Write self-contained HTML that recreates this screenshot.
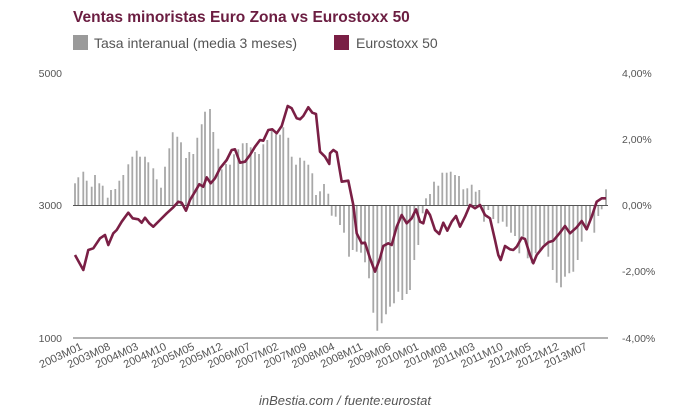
<!DOCTYPE html>
<html><head><meta charset="utf-8"><style>
html,body{margin:0;padding:0;background:#fff;}
svg{display:block;font-family:"Liberation Sans",sans-serif;}
</style></head><body>
<svg id="s" width="680" height="415" viewBox="0 0 680 415" xmlns="http://www.w3.org/2000/svg">
<text x="73" y="22" font-size="15.5" font-weight="bold" fill="#6b1d41">Ventas minoristas Euro Zona vs Eurostoxx 50</text>
<rect x="73" y="35" width="15" height="15" fill="#9a9a9a"/>
<text x="94" y="48" font-size="14" fill="#555">Tasa interanual (media 3 meses)</text>
<rect x="334" y="35" width="15" height="15" fill="#7a1f45"/>
<text x="356" y="48" font-size="14" fill="#555">Eurostoxx 50</text>
<g font-size="10.5" fill="#555">
<text x="62" y="77" text-anchor="end">5000</text>
<text x="62" y="209" text-anchor="end">3000</text>
<text x="62" y="342" text-anchor="end">1000</text>
<text x="622" y="77">4,00%</text>
<text x="622" y="143">2,00%</text>
<text x="622" y="209">0,00%</text>
<text x="622" y="275">-2,00%</text>
<text x="622" y="342">-4,00%</text>
</g>
<g id="bars" stroke="#a8a8a8" stroke-width="1.8"></g>
<line x1="73" y1="205.5" x2="608" y2="205.5" stroke="#555" stroke-width="1"/>
<line x1="73" y1="338" x2="608" y2="338" stroke="#666" stroke-width="1"/>
<polyline id="ln" fill="none" stroke="#7a1f45" stroke-width="2.6" stroke-linejoin="round"/>
<g id="xl" font-size="11" fill="#555"></g>
<text x="345" y="405" font-size="13" font-style="italic" fill="#555" text-anchor="middle">inBestia.com / fuente:eurostat</text>
</svg>
<script>
var NS="http://www.w3.org/2000/svg";
var b1=[[45,280],[55,262],[70,245],[80,272],[95,290],[105,255],[118,280],[128,287],[143,323],[153,300],[166,297],[178,272],[190,255],[205,223],[217,200],[230,182],[240,200],[255,200],[265,217],[280,235],[290,268],[303,293],[315,230],[328,175],[338,127],[352,140],[363,157],[378,204],[388,186],[400,192],[412,143],[425,103],[435,65],[450,57],[460,126],[475,176],[485,238],[498,222],[510,224],[522,193],[535,178],[548,160],[560,159],[572,172],[585,186],[597,192],[610,163],[622,150],[635,122],[648,133],[660,134],[670,112],[685,143],[695,200],[708,224],[720,203],[733,212],[745,224],[757,250],[768,315],[780,304],[792,282],[805,311]];
var b2=[[5,377],[17,380],[30,405],[42,428],[57,500],[68,480],[80,485],[93,488],[105,517],[117,565],[130,668],[142,722],[155,700],[168,673],[180,650],[192,640],[205,605],[217,630],[230,612],[240,600],[253,510],[265,465],[278,370],[288,325],[300,312],[312,275],[325,287],[337,248],[350,248],[362,245],[375,255],[387,258],[400,298],[412,295],[425,284],[437,305],[448,300],[462,395],[475,360],[490,387],[505,400],[518,395],[530,410],[543,428],[555,438],[568,490],[580,440],[593,505],[605,520],[617,490],[630,480],[643,470],[655,500],[668,540],[680,578],[693,592],[705,560],[718,550],[730,545],[743,510],[755,455],[768,420],[780,395],[793,428],[805,378],[815,358],[828,298]];
var l1=[[45,495],[70,540],[85,480],[100,475],[120,445],[135,435],[145,465],[160,430],[170,420],[185,395],[205,368],[218,385],[235,388],[245,398],[255,383],[268,400],[280,410],[300,390],[320,370],[340,352],[355,335],[365,338],[378,362],[390,330],[405,305],[418,283],[430,290],[440,262],[452,280],[465,265],[480,235],[500,210],[515,180],[525,178],[540,218],[555,215],[570,195],[585,170],[600,150],[610,152],[625,120],[637,118],[650,130],[665,108],[683,48],[695,55],[710,85],[720,88],[730,78],[745,52],[757,68],[768,72],[780,185],[795,200],[808,222]];
var l2=[[0,190],[10,180],[20,187],[35,275],[55,272],[70,345],[80,430],[95,460],[105,458],[120,505],[135,545],[150,505],[160,468],[175,460],[185,465],[200,410],[215,375],[230,400],[245,385],[258,358],[270,395],[280,400],[290,360],[300,375],[315,420],[328,432],[340,398],[352,422],[365,395],[378,378],[390,410],[405,380],[420,345],[435,355],[450,345],[465,375],[480,385],[495,450],[505,495],[512,510],[525,468],[540,478],[550,480],[560,470],[575,443],[585,447],[600,495],[610,520],[620,495],[640,470],[655,457],[670,452],[690,428],[705,408],[720,430],[740,412],[755,393],[770,418],[785,380],[800,335],[815,325],[828,325]];
var g=document.getElementById('bars');
function addBars(a,ox){a.forEach(function(p){var x=ox+p[0]/3,y=90+p[1]/3;var l=document.createElementNS(NS,'line');l.setAttribute('x1',x.toFixed(1));l.setAttribute('x2',x.toFixed(1));l.setAttribute('y1',205.5);l.setAttribute('y2',y.toFixed(1));g.appendChild(l);});}
addBars(b1,60);addBars(b2,330);
var pts=[];l1.forEach(function(p){pts.push((60+p[0]/3).toFixed(1)+','+(90+p[1]/3).toFixed(1));});
l2.forEach(function(p){pts.push((330+p[0]/3).toFixed(1)+','+(90+p[1]/3).toFixed(1));});
document.getElementById('ln').setAttribute('points',pts.join(' '));
var labs=["2003M01","2003M08","2004M03","2004M10","2005M05","2005M12","2006M07","2007M02","2007M09","2008M04","2008M11","2009M06","2010M01","2010M08","2011M03","2011M10","2012M05","2012M12","2013M07"];
var xl=document.getElementById('xl');
labs.forEach(function(t,i){var x=83+i*28.05,y=349;var e=document.createElementNS(NS,'text');e.setAttribute('x',x);e.setAttribute('y',y);e.setAttribute('text-anchor','end');e.setAttribute('transform','rotate(-25 '+x+' '+y+')');e.textContent=t;xl.appendChild(e);});
</script>
</body></html>
